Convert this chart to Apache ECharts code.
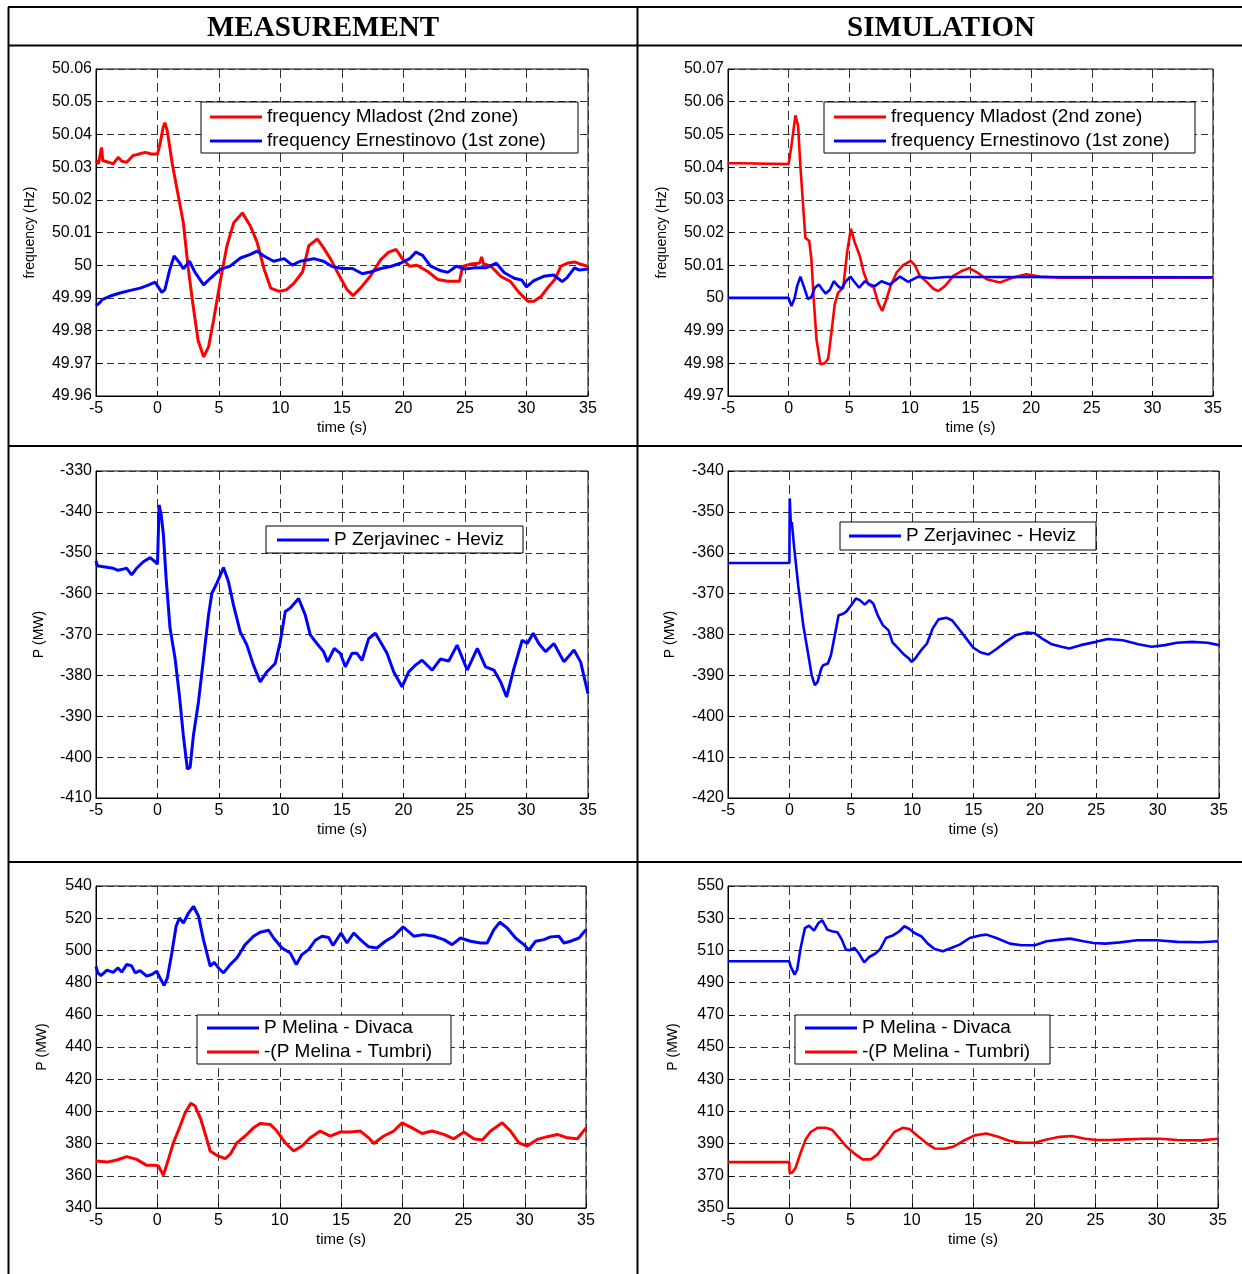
<!DOCTYPE html>
<html>
<head>
<meta charset="utf-8">
<title>Measurement vs simulation</title>
<script src="https://cdn.jsdelivr.net/npm/echarts@6/dist/echarts.min.js"></script>
<style>
  body { margin: 0; background: #fff; }
  #chart { width: 1242px; height: 1274px; }
</style>
</head>
<body>
<div id="chart"></div>
<script>
// ---- data: [time (s), value] ----
var measFreqMladost = [[-5,50.032],[-4.8,50.031],[-4.55,50.036],[-4.45,50.032],[-4.0,50.0315],[-3.6,50.031],[-3.2,50.033],[-2.9,50.0318],[-2.5,50.0315],[-2.0,50.0335],[-1.5,50.034],[-1.0,50.0345],[-0.5,50.034],[0,50.034],[0.2,50.037],[0.45,50.042],[0.6,50.0436],[0.8,50.041],[1.2,50.031],[1.7,50.021],[2.1,50.013],[2.5,49.999],[2.9,49.9875],[3.3,49.977],[3.75,49.972],[4.15,49.975],[4.55,49.983],[5.1,49.995],[5.65,50.006],[6.2,50.013],[6.9,50.016],[7.55,50.012],[8.1,50.007],[8.65,49.999],[9.2,49.993],[9.9,49.992],[10.5,49.9925],[11.1,49.9945],[11.8,49.998],[12.3,50.006],[13.0,50.008],[13.5,50.0053],[14.1,50.0017],[14.75,49.997],[15.4,49.9926],[15.9,49.9907],[16.5,49.993],[17.3,49.9966],[18.15,50.0017],[18.8,50.004],[19.4,50.0048],[19.9,50.002],[20.5,49.9997],[21.1,50.0],[22.0,49.998],[22.8,49.9956],[23.6,49.9951],[24.55,49.9951],[24.8,49.9996],[25.5,50.0004],[26.2,50.0007],[26.35,50.0025],[26.5,50.0005],[27.1,49.9997],[27.9,49.9966],[28.7,49.995],[29.4,49.9916],[30.1,49.989],[30.6,49.989],[31.2,49.9905],[31.7,49.993],[32.3,49.9956],[32.8,49.9997],[33.4,50.0007],[33.9,50.001],[34.5,50.0002],[35,49.9996]];
var measFreqErnestinovo = [[-5,49.9877],[-4.7,49.9885],[-4.5,49.9895],[-3.9,49.9905],[-3.05,49.9915],[-2.2,49.9923],[-1.4,49.993],[-0.7,49.994],[-0.2,49.9948],[0.35,49.9917],[0.6,49.9925],[1.0,49.9987],[1.35,50.0028],[1.8,50.0007],[2.1,49.9989],[2.6,50.0012],[3.07,49.9977],[3.75,49.994],[4.3,49.996],[5.1,49.9987],[5.9,49.9997],[6.75,50.0022],[7.55,50.0033],[8.1,50.0043],[8.65,50.0028],[9.45,50.0012],[10.3,50.002],[10.95,50.0],[11.6,50.0012],[12.7,50.002],[13.5,50.0012],[14.2,49.9996],[15.0,49.999],[15.85,49.999],[16.65,49.9974],[17.3,49.9979],[18.15,49.999],[18.95,49.9996],[19.75,50.0006],[20.5,50.002],[21.0,50.004],[21.55,50.003],[22.2,49.9997],[23.05,49.9983],[23.6,49.9978],[24.3,49.9997],[24.95,49.9988],[25.8,49.9992],[26.7,49.9992],[27.55,50.0006],[28.2,49.9977],[29.0,49.996],[29.6,49.9955],[30.0,49.9934],[30.6,49.9953],[31.4,49.9966],[32.2,49.997],[32.9,49.995],[33.3,49.9962],[33.9,49.9992],[34.3,49.9985],[35,49.9988]];
var simFreqMladost = [[-5,50.0412],[-4,50.0412],[-3.9,50.0409],[0,50.0409],[0.23,50.0465],[0.56,50.0558],[0.78,50.0526],[0.97,50.0403],[1.2,50.028],[1.38,50.0184],[1.7,50.0174],[1.88,50.0118],[2.07,49.9996],[2.3,49.9873],[2.62,49.9797],[2.98,49.980],[3.26,49.9814],[3.53,49.9894],[3.8,49.998],[4.08,50.0016],[4.5,50.0031],[4.82,50.0138],[5.13,50.0212],[5.46,50.0169],[5.87,50.0128],[6.2,50.0077],[6.56,50.0042],[7.03,50.0031],[7.39,49.9985],[7.72,49.996],[8.07,49.9996],[8.4,50.0036],[8.9,50.0077],[9.45,50.01],[10.06,50.0113],[10.41,50.01],[10.83,50.0067],[11.38,50.0049],[11.93,50.0028],[12.34,50.0021],[12.89,50.0036],[13.58,50.0067],[14.27,50.0082],[14.9,50.0091],[15.5,50.0079],[16.33,50.0057],[17.43,50.0047],[18.5,50.0062],[19.6,50.0072],[20.7,50.0065],[22.4,50.0062],[35,50.0062]];
var simFreqErnestinovo = [[-5,50.0],[0,50.0],[0.23,49.9975],[0.5,50.0],[0.7,50.0036],[0.97,50.0065],[1.24,50.0036],[1.6,49.9996],[1.88,50.0003],[2.16,50.0031],[2.49,50.0041],[2.8,50.0025],[3.06,50.0013],[3.4,50.0025],[3.73,50.0051],[4.08,50.0036],[4.36,50.0028],[4.72,50.0051],[5.1,50.0065],[5.46,50.0047],[5.82,50.0031],[6.29,50.0051],[6.7,50.0041],[7.11,50.0036],[7.66,50.0051],[8.35,50.0041],[9.18,50.0065],[9.86,50.0049],[10.69,50.0065],[11.65,50.006],[13.03,50.0064],[14.68,50.0064],[35,50.0063]];
var measPZerjavinec = [[-5,-352.0],[-4.9,-353.2],[-4.4,-353.4],[-3.6,-353.8],[-3.2,-354.3],[-2.8,-354.0],[-2.5,-353.8],[-2.1,-355.4],[-1.7,-353.8],[-1.15,-352.2],[-0.6,-351.2],[-0.2,-352.2],[0,-352.8],[0.13,-338.3],[0.3,-340.7],[0.48,-345.6],[0.7,-356.2],[1.02,-368.5],[1.43,-375.9],[1.78,-384.9],[2.1,-394.7],[2.43,-402.9],[2.65,-402.5],[2.92,-394.7],[3.33,-386.5],[3.74,-375.9],[4.15,-365.2],[4.42,-359.9],[4.82,-357.5],[5.37,-353.6],[5.77,-357.1],[6.18,-362.8],[6.72,-369.3],[7.27,-372.6],[7.8,-377.5],[8.35,-381.6],[8.9,-379.1],[9.57,-377.1],[9.98,-371.8],[10.39,-364.4],[10.79,-363.6],[11.47,-361.2],[12.01,-365.2],[12.42,-370.1],[12.96,-372.2],[13.5,-374.2],[13.83,-376.7],[14.37,-373.4],[14.86,-374.6],[15.27,-377.9],[15.81,-374.6],[16.22,-374.6],[16.63,-376.3],[17.17,-371],[17.71,-369.7],[18.12,-371.8],[18.66,-374.6],[19.2,-379.1],[19.88,-382.8],[20.43,-379.1],[20.97,-377.5],[21.51,-376.3],[22.33,-378.7],[23.0,-376],[23.68,-376.5],[24.36,-372.6],[25.18,-378.7],[26.0,-373.4],[26.67,-377.9],[27.35,-378.7],[27.9,-381.6],[28.38,-385.3],[28.98,-378.3],[29.65,-371.4],[30.06,-372.2],[30.55,-369.7],[31.0,-372.2],[31.55,-374.2],[32.23,-372.2],[33.05,-376.7],[33.86,-373.8],[34.4,-376.7],[35,-384.5]];
var simPZerjavinec = [[-5,-362.5],[0,-362.5],[0.03,-346.7],[0.12,-353.2],[0.2,-352.5],[0.4,-359],[0.72,-368],[1.13,-377.7],[1.5,-384.2],[1.82,-390],[2.07,-392.4],[2.3,-391.6],[2.6,-388.3],[2.76,-387.5],[3.14,-387.1],[3.39,-385],[3.7,-380.2],[4.01,-375.3],[4.33,-375],[4.64,-374.4],[5.05,-372.8],[5.42,-371.2],[5.74,-371.6],[6.14,-372.7],[6.52,-371.6],[6.83,-372.4],[7.2,-375.3],[7.61,-377.7],[8.08,-379],[8.4,-381.9],[8.87,-383.4],[9.34,-384.9],[9.71,-385.8],[9.96,-386.7],[10.27,-385.8],[10.74,-383.8],[11.21,-382.2],[11.68,-378.5],[12.15,-376.3],[12.78,-375.9],[13.25,-376.5],[13.72,-378.3],[14.34,-380.7],[14.97,-383.2],[15.6,-384.4],[16.22,-384.9],[16.85,-383.6],[17.63,-381.8],[18.41,-380.2],[19.35,-379.5],[19.98,-379.7],[20.6,-381],[21.38,-382.4],[22.17,-383],[22.8,-383.4],[23.73,-382.6],[24.98,-381.8],[25.92,-381.1],[27.17,-381.4],[28.43,-382.4],[29.52,-383],[30.6,-382.6],[31.56,-382],[32.81,-381.8],[34.06,-382],[35,-382.6]];
var measPDivaca = [[-5,490.0],[-4.85,486],[-4.6,484.4],[-4.1,487.7],[-3.6,486.4],[-3.2,489.1],[-2.9,486.5],[-2.5,491.2],[-2.1,490.5],[-1.8,486],[-1.4,487.5],[-0.86,484],[-0.45,485],[-0.04,487],[0.23,482.9],[0.56,478.2],[0.83,483],[1.19,498.4],[1.54,515],[1.81,520.1],[2.14,517],[2.55,523.2],[2.96,527.4],[3.37,521.2],[3.77,506.7],[4.32,490.2],[4.65,492.6],[5.0,489.1],[5.41,486],[5.95,491.2],[6.5,495.3],[7.18,503.6],[7.86,508.8],[8.4,511.3],[9.09,512.5],[9.5,507.7],[10.18,501.5],[10.86,498.4],[11.35,491.2],[11.81,497.4],[12.36,500.5],[12.9,506.3],[13.45,508.8],[13.99,508],[14.35,503],[15.0,510.8],[15.49,504.6],[16.04,510.8],[16.58,506.7],[17.26,502.2],[17.94,501.5],[18.62,505.7],[19.3,508.8],[20.07,514.6],[20.94,508.8],[21.76,509.8],[22.57,508.8],[23.39,506.7],[24.07,503.6],[24.75,507.7],[25.57,505.7],[26.39,504.6],[26.93,504.6],[27.48,512.9],[27.97,517.5],[28.57,513.9],[29.25,507.7],[29.93,503.6],[30.34,500.1],[30.89,505.7],[31.57,506.7],[32.11,508.4],[32.79,508.8],[33.2,504.6],[33.75,505.7],[34.43,507.7],[35,512.9]];
var measPTumbri = [[-5,369.2],[-4.1,368.5],[-3.3,369.8],[-2.5,371.9],[-1.68,370.2],[-0.86,366.5],[-0.18,366.5],[0.1,366.1],[0.5,360.3],[0.91,370.2],[1.32,380.5],[1.81,389.8],[2.28,399.2],[2.74,405],[3.09,403.3],[3.56,395],[4.05,382.6],[4.32,375.4],[4.86,372.7],[5.54,370.6],[5.95,373.3],[6.5,380.5],[7.18,384.7],[7.86,389.8],[8.4,392.5],[9.22,391.9],[9.77,387.8],[10.45,380.5],[11.13,375.4],[11.81,378.5],[12.49,383.6],[13.31,387.8],[14.13,384.7],[14.95,387.2],[15.76,387.2],[16.58,387.8],[17.26,383.6],[17.67,380.1],[18.49,384.7],[19.3,387.8],[19.99,392.9],[20.8,389.8],[21.62,386.3],[22.44,387.8],[23.39,385.7],[24.21,383],[25.03,387.2],[25.84,383],[26.53,382.2],[27.21,387.8],[28.16,392.9],[28.84,387.8],[29.52,380.5],[30.2,378.5],[31.02,382.6],[31.84,384.3],[32.66,385.7],[33.48,383.6],[34.3,383],[35,389.8]];
var simPDivaca = [[-5,503.3],[0,503.3],[0.1,500.2],[0.44,495],[0.65,498.1],[0.93,511.5],[1.28,523.9],[1.61,525.4],[2.02,522.3],[2.38,527],[2.7,528.7],[3.11,522.9],[3.47,521.9],[3.93,521.3],[4.29,516.7],[4.62,510.5],[4.95,510.1],[5.3,511.5],[5.66,508.4],[6.12,502.6],[6.53,505.9],[7.02,508],[7.4,510.5],[7.9,517.7],[8.44,519.2],[8.99,521.9],[9.4,525],[9.81,523.3],[10.22,520.8],[10.77,518.8],[11.31,514.2],[11.86,510.9],[12.54,509.5],[13.22,511.5],[13.91,513.6],[14.73,517.7],[15.55,519.2],[16.09,519.8],[16.91,517.7],[18.0,514.2],[18.96,513.2],[20.05,513.2],[21.01,515.7],[22.1,516.7],[22.92,517.3],[24.02,515.7],[24.84,514.6],[25.79,514.2],[27.02,515],[28.39,516.3],[30.03,516.3],[31.67,515.3],[33.58,515.1],[35,515.7]];
var simPTumbri = [[-5,378.5],[0,378.5],[0.03,372],[0.25,372],[0.52,375],[0.93,384.3],[1.34,392.6],[1.75,397.2],[2.3,399.8],[2.98,399.8],[3.52,398.4],[4.07,393.6],[4.62,388.5],[5.3,383.9],[5.98,380.2],[6.67,380.2],[7.21,383.3],[7.9,390.5],[8.58,397.2],[9.26,399.8],[9.81,399],[10.49,394.7],[11.17,390.5],[11.86,387],[12.68,386.8],[13.36,388],[14.18,391.6],[15.14,395.1],[16.09,396.3],[17.05,394.3],[18.0,391.6],[18.96,390.5],[20.05,390.5],[21.01,392.6],[22.1,394.2],[23.06,394.7],[24.15,393],[25.11,392.2],[26.2,392.2],[27.57,392.6],[28.93,393],[30.3,393],[31.67,392.2],[33.58,392],[35,393]];

// axis ranges per panel: [min, max, interval]
var yRanges = [[49.96, 50.06, 0.01], [49.97, 50.07, 0.01], [-410, -330, 10], [-420, -340, 10], [340, 540, 20], [350, 550, 20]];
var yNames = ['frequency (Hz)', 'frequency (Hz)', 'P (MW)', 'P (MW)', 'P (MW)', 'P (MW)'];
var yNameGaps = [59, 59, 50, 51, 47, 48];
var headers = ['MEASUREMENT', 'SIMULATION'];

var nameMladost = 'frequency Mladost (2nd zone)';
var nameErnest = 'frequency Ernestinovo (1st zone)';
var nameZerj = 'P Zerjavinec - Heviz';
var nameDivaca = 'P Melina - Divaca';
var nameTumbri = '-(P Melina - Tumbri)';

var RED = '#ff0000', BLUE = '#0000ff';
var FONT = '"Liberation Sans", Arial, sans-serif';

// plot boxes [left, top, width, height]
var boxes = [[96, 69, 492, 327], [728, 69, 485, 327], [96, 471, 492, 327], [728, 471, 491, 327], [96, 886, 490, 322], [728, 886, 490, 322]];

var grids = [], xAxes = [], yAxes = [];
for (let i = 0; i < 6; i++) {
    grids.push({
        left: boxes[i][0], top: boxes[i][1], width: boxes[i][2], height: boxes[i][3],
        show: true, borderColor: '#000', borderWidth: 1, backgroundColor: '#fff'
    });
    xAxes.push({
        gridIndex: i, type: 'value', min: -5, max: 35, interval: 5,
        name: 'time (s)', nameLocation: 'middle', nameGap: 24,
        nameTextStyle: { fontSize: 15, color: '#000', fontFamily: FONT },
        axisLine: { show: true, onZero: false, lineStyle: { color: '#000', width: 1 } },
        axisTick: { show: true, inside: true, length: 5, lineStyle: { color: '#000' } },
        axisLabel: { fontSize: 16, color: '#000', fontFamily: FONT, margin: 5 },
        splitLine: { show: true, lineStyle: { color: '#333', type: [9, 5], width: 1 } }
    });
    let r = yRanges[i];
    yAxes.push({
        gridIndex: i, type: 'value', min: r[0], max: r[1], interval: r[2],
        name: yNames[i], nameLocation: 'middle', nameGap: yNameGaps[i],
        nameTextStyle: { fontSize: 14, color: '#000', fontFamily: FONT },
        axisLine: { show: true, onZero: false, lineStyle: { color: '#000', width: 1 } },
        axisTick: { show: true, inside: true, length: 5, lineStyle: { color: '#000' } },
        axisLabel: {
            fontSize: 16, color: '#000', fontFamily: FONT, margin: 4,
            formatter: function (v) { return String(+v.toFixed(2)); }
        },
        splitLine: { show: true, lineStyle: { color: '#333', type: [7, 4], width: 1 } }
    });
}

function lineSeries(name, data, color, idx, width) {
    return {
        name: name, type: 'line', data: data,
        xAxisIndex: idx, yAxisIndex: idx,
        symbol: 'none', silent: true,
        lineStyle: { color: color, width: width },
        itemStyle: { color: color }
    };
}

var series = [
    lineSeries(nameMladost, measFreqMladost, RED, 0, 3),
    lineSeries(nameErnest, measFreqErnestinovo, BLUE, 0, 3),
    lineSeries(nameMladost, simFreqMladost, RED, 1, 2.6),
    lineSeries(nameErnest, simFreqErnestinovo, BLUE, 1, 2.6),
    lineSeries(nameZerj, measPZerjavinec, BLUE, 2, 3),
    lineSeries(nameZerj, simPZerjavinec, BLUE, 3, 2.6),
    lineSeries(nameDivaca, measPDivaca, BLUE, 4, 3),
    lineSeries(nameTumbri, measPTumbri, RED, 4, 3),
    lineSeries(nameDivaca, simPDivaca, BLUE, 5, 2.6),
    lineSeries(nameTumbri, simPTumbri, RED, 5, 2.6)
];

// legend rows: the icon is a thin bar so it reads as a line sample
function legendBox(names, left, top, padding, textWidth, gap) {
    return {
        data: names, left: left, top: top, orient: 'vertical',
        icon: 'rect', itemWidth: 52, itemHeight: 3, itemGap: gap,
        padding: padding, borderColor: '#000', borderWidth: 1,
        backgroundColor: '#fff', selectedMode: false,
        textStyle: { fontSize: 19, lineHeight: 20, color: '#000', fontFamily: FONT, width: textWidth }
    };
}

var legends = [
    legendBox([nameMladost, nameErnest], 201, 102, [5, 8, 2, 9], 303, 4),
    legendBox([nameMladost, nameErnest], 824, 102, [5, 8, 2, 10], 296, 4),
    legendBox([nameZerj], 266, 526, [4, 6, 3, 11], 183, 4),
    legendBox([nameZerj], 840, 522, [4, 6, 4, 9], 184, 4),
    legendBox([nameDivaca, nameTumbri], 197, 1015, [3, 5, 2, 10], 182, 4),
    legendBox([nameDivaca, nameTumbri], 795, 1015, [3, 6, 2, 10], 182, 4)
];

// table frame around the panels
function hline(y, x1, x2) {
    return { type: 'line', silent: true, z: 100, shape: { x1: x1, y1: y, x2: x2, y2: y }, style: { stroke: '#000', lineWidth: 2 } };
}
function vline(x, y1, y2) {
    return { type: 'line', silent: true, z: 100, shape: { x1: x, y1: y1, x2: x, y2: y2 }, style: { stroke: '#000', lineWidth: 2 } };
}
var graphics = [
    hline(7, 8, 1242), hline(45.5, 8, 1242), hline(446, 8, 1242), hline(862, 8, 1242),
    vline(8.5, 7, 1274), vline(637.5, 7, 1274),
    { type: 'text', silent: true, style: { text: headers[0], x: 323, y: 29, fill: '#000', font: 'bold 29px "Liberation Serif", "Times New Roman", serif', align: 'center', verticalAlign: 'middle' } },
    { type: 'text', silent: true, style: { text: headers[1], x: 941, y: 29, fill: '#000', font: 'bold 29px "Liberation Serif", "Times New Roman", serif', align: 'center', verticalAlign: 'middle' } }
];

var option = {
    animation: false,
    backgroundColor: '#fff',
    grid: grids,
    xAxis: xAxes,
    yAxis: yAxes,
    legend: legends,
    series: series,
    graphic: graphics
};

var myChart = echarts.init(document.getElementById('chart'));
myChart.setOption(option);
</script>
</body>
</html>
